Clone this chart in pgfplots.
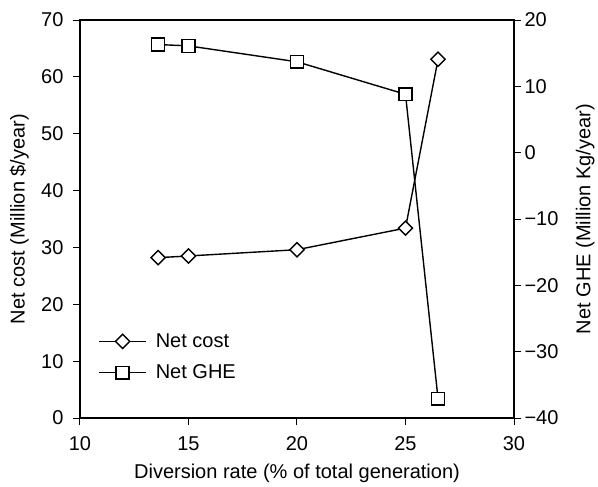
\documentclass[border=0pt]{standalone}
\usepackage{fontspec}
\setmainfont{Liberation Sans}
\usepackage{pgfplots}
\pgfplotsset{compat=1.18}

\begin{document}
\begin{tikzpicture}
\pgfplotsset{
  every axis/.append style={
    scale only axis, width=434pt, height=398pt,
    at={(0,0)}, anchor=south west,
    xmin=10, xmax=30,
    tick align=outside, major tick length=7pt,
    tick style={black, line width=1pt},
    axis line style={line width=1.1pt},
    font=\fontsize{20}{24}\selectfont,
    /pgf/number format/assume math mode=true,
  },
  costline/.style={black, line width=1.4pt, mark=square*, mark size=5pt,
    mark options={rotate=45, fill=white, draw=black, solid}},
  gheline/.style={black, line width=1.4pt, mark=square*, mark size=6.4pt,
    mark options={fill=white, draw=black, solid}},
}
% ---- left axis: net cost ----
\begin{axis}[
  ymin=0, ymax=70, ytick={0,10,...,70},
  xtick={10,15,...,30},
  xtick pos=bottom, ytick pos=left,
  xticklabel style={yshift=-8pt},
  yticklabel style={xshift=-6pt},
  xlabel={Diversion rate (\% of total generation)},
  ylabel={Net cost (Million \$/year)},
  every axis x label/.style={at={(axis description cs:0.5,-0.14)}, anchor=center},
  every axis y label/.style={at={(axis description cs:-0.14,0.5)}, rotate=90, anchor=center},
]
\addplot[costline] coordinates {(13.6,28.2) (15,28.5) (20,29.6) (25,33.4) (26.5,63.1)};
\end{axis}
% ---- right axis: net GHE ----
\begin{axis}[
  hide x axis,
  axis y line*=right,
  ymin=-40, ymax=20, ytick={-40,-30,...,20},
  yticklabels={−40,−30,−20,−10,0,10,20},
  ylabel={Net GHE (Million Kg/year)},
  every axis y label/.style={at={(axis description cs:1.164,0.5)}, rotate=90, anchor=center},
  legend style={draw=none, fill=none, at={(0.035,0.153)}, anchor=west,
    row sep=12pt, font=\fontsize{20}{24}\selectfont},
  legend cell align=left,
  legend image code/.code={\draw[mark repeat=2, mark phase=2, #1]
    plot coordinates {(0pt,0pt) (23.5pt,0pt) (47pt,0pt)}; \path (54pt,0pt);},
]
\addlegendimage{costline}
\addlegendentry{Net cost}
\addplot[gheline] coordinates {(13.6,16.3) (15,16.1) (20,13.7) (25,8.8) (26.5,-37.1)};
\addlegendentry{Net GHE}
\end{axis}
% fix the page to the reference frame
\path (-80pt,-68.3pt) rectangle (518pt,418pt);
\end{tikzpicture}
\end{document}
